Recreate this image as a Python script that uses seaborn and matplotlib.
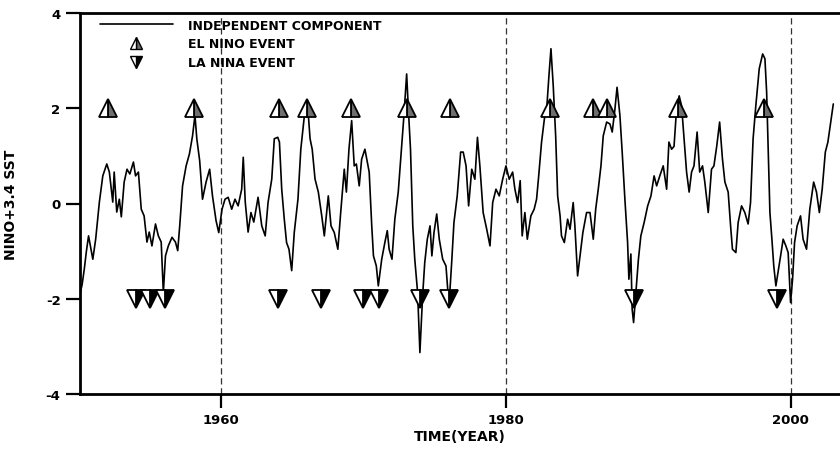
import matplotlib
matplotlib.use("Agg")
import matplotlib.pyplot as plt
import seaborn as sns
import numpy as np
import pandas as pd
from matplotlib.lines import Line2D

# ---- data ----
years = [
    1950.1, 1950.25, 1950.4, 1950.55, 1950.7, 1951.0, 1951.2, 1951.46, 1951.7, 1951.98,
    1952.16, 1952.4, 1952.5, 1952.68, 1952.86, 1953.0, 1953.2, 1953.4, 1953.6, 1953.85,
    1954.0, 1954.2, 1954.4, 1954.6, 1954.8, 1954.96, 1955.15, 1955.4, 1955.6, 1955.8,
    1955.95, 1956.1, 1956.3, 1956.56, 1956.8, 1956.96, 1957.1, 1957.3, 1957.55, 1957.78,
    1958.0, 1958.17, 1958.3, 1958.5, 1958.7, 1958.95, 1959.2, 1959.4, 1959.65, 1959.84,
    1960.07, 1960.28, 1960.5, 1960.75, 1960.98, 1961.2, 1961.45, 1961.56, 1961.7, 1961.9,
    1962.1, 1962.3, 1962.6, 1962.86, 1963.1, 1963.3, 1963.56, 1963.74, 1963.98, 1964.1,
    1964.26, 1964.44, 1964.6, 1964.77, 1964.96, 1965.14, 1965.4, 1965.6, 1965.9, 1966.1,
    1966.25, 1966.4, 1966.6, 1966.83, 1967.07, 1967.25, 1967.53, 1967.72, 1967.95, 1968.2,
    1968.4, 1968.65, 1968.8, 1968.98, 1969.17, 1969.35, 1969.5, 1969.7, 1969.87, 1970.1,
    1970.4, 1970.58, 1970.7, 1970.9, 1971.04, 1971.28, 1971.5, 1971.67, 1971.8, 1972.0,
    1972.2, 1972.44, 1972.68, 1972.84, 1973.03, 1973.15, 1973.3, 1973.46, 1973.6, 1973.8,
    1973.96, 1974.15, 1974.3, 1974.48, 1974.67, 1974.8, 1974.95, 1975.14, 1975.32, 1975.56,
    1975.79, 1976.0, 1976.19, 1976.35, 1976.58, 1976.82, 1977.0, 1977.2, 1977.38, 1977.6,
    1977.82, 1978.0, 1978.17, 1978.4, 1978.65, 1978.88, 1979.07, 1979.3, 1979.53, 1979.77,
    1980.0, 1980.23, 1980.47, 1980.63, 1980.82, 1981.0, 1981.14, 1981.33, 1981.5, 1981.75,
    1981.98, 1982.15, 1982.3, 1982.5, 1982.7, 1982.86, 1983.02, 1983.16, 1983.32, 1983.49,
    1983.63, 1983.8, 1983.9, 1984.1, 1984.33, 1984.5, 1984.72, 1984.84, 1985.03, 1985.2,
    1985.4, 1985.66, 1985.9, 1986.13, 1986.3, 1986.48, 1986.67, 1986.83, 1987.07, 1987.3,
    1987.46, 1987.65, 1987.8, 1988.0, 1988.16, 1988.35, 1988.54, 1988.63, 1988.77, 1988.86,
    1988.96, 1989.1, 1989.3, 1989.47, 1989.7, 1989.95, 1990.18, 1990.4, 1990.58, 1990.8,
    1991.04, 1991.28, 1991.44, 1991.63, 1991.8, 1991.98, 1992.16, 1992.33, 1992.5, 1992.68,
    1992.86, 1993.03, 1993.2, 1993.42, 1993.6, 1993.8, 1993.96, 1994.2, 1994.43, 1994.6,
    1994.8, 1995.0, 1995.2, 1995.37, 1995.6, 1995.77, 1995.9, 1996.14, 1996.3, 1996.54,
    1996.77, 1997.0, 1997.17, 1997.35, 1997.54, 1997.78, 1998.02, 1998.18, 1998.3, 1998.44,
    1998.53, 1998.67, 1998.8, 1998.95, 1999.1, 1999.28, 1999.46, 1999.65, 1999.81, 1999.98,
    2000.12, 2000.26, 2000.44, 2000.68, 2000.86, 2001.1, 2001.33, 2001.6, 2001.8, 2002.0,
    2002.2, 2002.42, 2002.6, 2002.8, 2002.98,
]
component = [
    -1.90, -1.70, -1.38, -1.00, -0.68, -1.17, -0.75, 0.03, 0.58, 0.83,
    0.66, 0.03, 0.66, -0.18, 0.09, -0.28, 0.45, 0.72, 0.62, 0.87,
    0.58, 0.66, -0.12, -0.26, -0.81, -0.60, -0.89, -0.43, -0.68, -0.81,
    -1.87, -1.10, -0.89, -0.71, -0.81, -0.99, -0.47, 0.37, 0.79, 1.04,
    1.42, 1.85, 1.36, 0.90, 0.09, 0.45, 0.72, 0.16, -0.36, -0.61,
    -0.12, 0.09, 0.13, -0.12, 0.09, -0.05, 0.30, 0.97, 0.03, -0.60,
    -0.19, -0.39, 0.13, -0.47, -0.68, 0.02, 0.51, 1.36, 1.39, 1.29,
    0.30, -0.33, -0.82, -0.96, -1.41, -0.61, 0.09, 1.14, 1.98, 1.98,
    1.36, 1.14, 0.51, 0.24, -0.26, -0.68, 0.16, -0.47, -0.61, -0.96,
    -0.19, 0.72, 0.24, 1.14, 1.74, 0.79, 0.83, 0.37, 0.93, 1.14,
    0.66, -0.47, -1.10, -1.31, -1.73, -1.17, -0.82, -0.57, -0.96, -1.17,
    -0.33, 0.24, 1.21, 1.85, 2.72, 1.98, 1.14, -0.47, -1.17, -1.87,
    -3.13, -1.94, -1.24, -0.75, -0.47, -1.10, -0.61, -0.22, -0.75, -1.17,
    -1.31, -2.15, -1.24, -0.40, 0.16, 1.08, 1.08, 0.79, -0.05, 0.72,
    0.51, 1.39, 0.79, -0.19, -0.54, -0.89, 0.02, 0.30, 0.16, 0.51,
    0.79, 0.51, 0.66, 0.30, 0.02, 0.48, -0.68, -0.19, -0.75, -0.26,
    -0.12, 0.09, 0.58, 1.29, 1.78, 1.98, 2.69, 3.25, 2.47, 1.42,
    0.16, -0.26, -0.68, -0.82, -0.33, -0.54, 0.02, -0.47, -1.52, -1.10,
    -0.61, -0.19, -0.19, -0.75, -0.12, 0.30, 0.79, 1.42, 1.71, 1.67,
    1.50, 1.98, 2.44, 1.85, 1.08, 0.09, -0.82, -1.59, -1.06, -2.22,
    -2.50, -1.94, -1.17, -0.68, -0.40, -0.05, 0.16, 0.58, 0.37, 0.58,
    0.79, 0.30, 1.29, 1.14, 1.20, 2.00, 2.26, 2.05, 1.36, 0.66,
    0.24, 0.66, 0.79, 1.50, 0.66, 0.79, 0.45, -0.19, 0.72, 0.79,
    1.21, 1.71, 0.93, 0.45, 0.24, -0.47, -0.96, -1.03, -0.40, -0.05,
    -0.19, -0.43, 0.02, 1.36, 2.05, 2.83, 3.14, 3.04, 2.34, 0.79,
    -0.19, -0.75, -1.31, -1.73, -1.45, -1.10, -0.75, -0.89, -1.03, -2.08,
    -1.59, -0.82, -0.47, -0.26, -0.75, -0.96, -0.12, 0.45, 0.24, -0.19,
    0.30, 1.08, 1.29, 1.71, 2.09,
]
el_nino_years = [1952.1, 1958.1, 1964.05, 1966.0, 1969.1, 1973.05, 1976.1,
                 1983.1, 1986.1, 1987.1, 1992.1, 1998.1]
el_nino_level = [2] * len(el_nino_years)
la_nina_years = [1954.0, 1955.0, 1956.05, 1964.0, 1967.05, 1970.0, 1971.1,
                 1974.0, 1976.0, 1989.0, 1999.0]
la_nina_level = [-2] * len(la_nina_years)

x_ticks = [1960, 1980, 2000]
y_ticks = [-4, -2, 0, 2, 4]
legend_labels = ["INDEPENDENT COMPONENT", "EL NINO EVENT", "LA NINA EVENT"]
x_label = "TIME(YEAR)"
y_label = "NINO+3.4 SST"

# ---- figure ----
sns.set_style("white")
plt.rcParams["font.family"] = ["DejaVu Sans"]
plt.rcParams["text.color"] = "black"
plt.rcParams["axes.labelcolor"] = "black"
plt.rcParams["xtick.color"] = "black"
plt.rcParams["ytick.color"] = "black"

fig = plt.figure(figsize=(8.4, 4.52), dpi=100)
ax = fig.add_axes([80 / 840, 1 - 395 / 452, 1 - 80 / 840, (395 - 14) / 452])

df = pd.DataFrame({"year": years, "value": component})
sns.lineplot(data=df, x="year", y="value", color="black", lw=1.2, ax=ax,
             sort=False, estimator=None)

ax.plot(el_nino_years, el_nino_level, linestyle="none", marker="^", ms=13,
        fillstyle="right", markerfacecolor="#6e6e6e", markerfacecoloralt="white",
        markeredgecolor="black", markeredgewidth=1.3, zorder=4)
ax.plot(la_nina_years, la_nina_level, linestyle="none", marker="v", ms=13,
        fillstyle="right", markerfacecolor="black", markerfacecoloralt="white",
        markeredgecolor="black", markeredgewidth=1.3, zorder=4)

ax.set_xlim(1950.1, 2003.45)
ax.set_ylim(-4, 4)
ax.set_xticks(x_ticks)
ax.set_yticks(y_ticks)
ax.set_xticklabels([str(t) for t in x_ticks], fontweight="bold", fontsize=9.5)
ax.set_yticklabels([str(t) for t in y_ticks], fontweight="bold", fontsize=9.5)
ax.tick_params(direction="out", length=10, width=1.6, pad=4, bottom=True, left=True,
               color="black", labelcolor="black")
ax.xaxis.grid(True, linestyle=(0, (5, 3)), color="#333333", lw=0.9)
ax.yaxis.grid(False)
ax.set_axisbelow(True)

for side in ["left", "bottom", "top"]:
    ax.spines[side].set_visible(True)
    ax.spines[side].set_color("black")
    ax.spines[side].set_linewidth(2.0)
ax.spines["right"].set_visible(False)

ax.set_xlabel(x_label, fontweight="bold", fontsize=10, labelpad=2, color="black")
ax.set_ylabel(y_label, fontweight="bold", fontsize=10, labelpad=20, color="black")

handles = [
    Line2D([], [], color="black", lw=1.2),
    Line2D([], [], linestyle="none", marker="^", ms=8, fillstyle="right",
           markerfacecolor="#6e6e6e", markerfacecoloralt="white",
           markeredgecolor="black", markeredgewidth=1.0),
    Line2D([], [], linestyle="none", marker="v", ms=8, fillstyle="right",
           markerfacecolor="black", markerfacecoloralt="white",
           markeredgecolor="black", markeredgewidth=1.0),
]
leg = ax.legend(handles, legend_labels, loc="upper left",
                bbox_to_anchor=(20 / 760, 0.985), frameon=False,
                prop={"weight": "bold", "size": 9}, handlelength=5.8,
                handletextpad=1.2, labelspacing=0.45, borderpad=0, borderaxespad=0)
for t in leg.get_texts():
    t.set_color("black")

fig.savefig("out.png", dpi=100)
